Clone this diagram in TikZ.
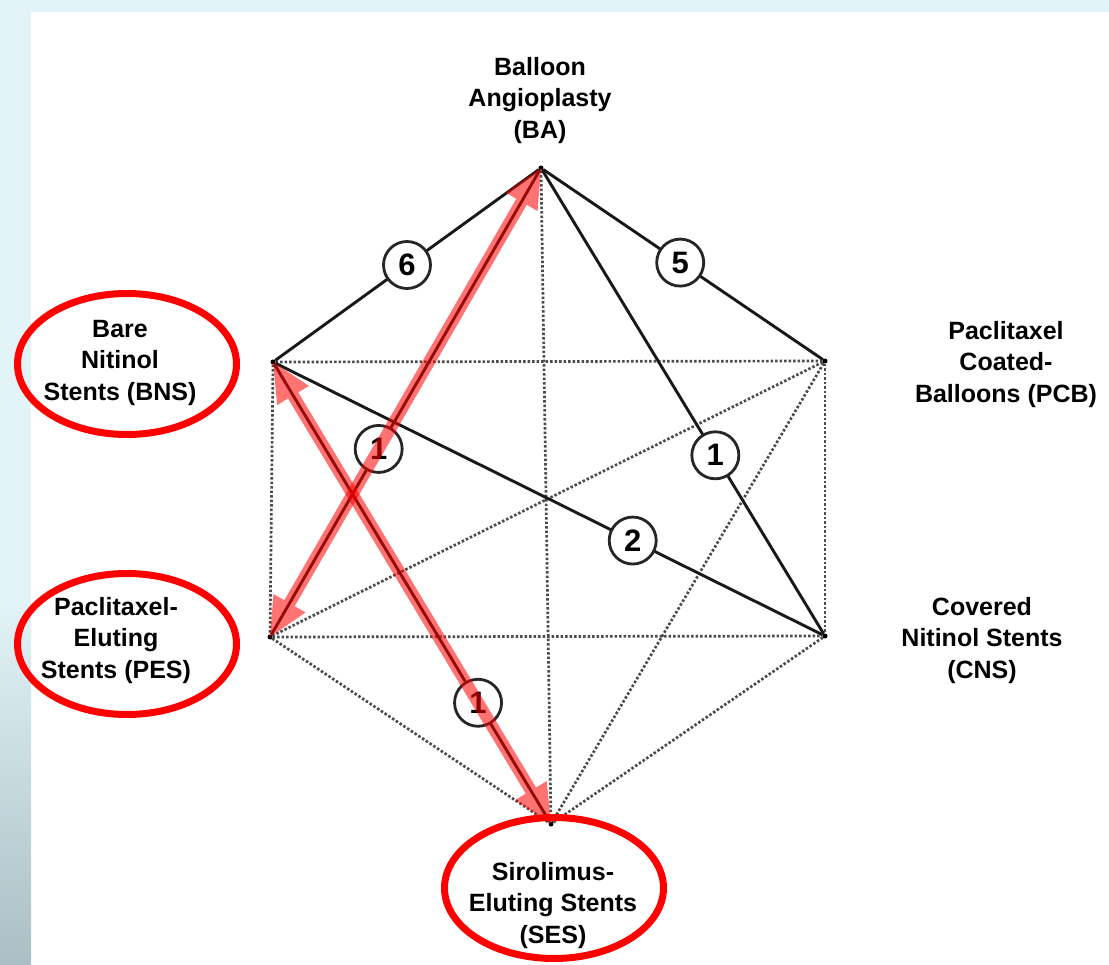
\documentclass[tikz,border=0pt]{standalone}
\usepackage{fontspec}
\setmainfont{Liberation Sans}
\usetikzlibrary{calc}
\definecolor{bgcyan}{RGB}{226,244,248}
\definecolor{bggray}{RGB}{170,190,195}
\newcommand\dblarrow[2]{%
  \fill[arr] (#1.center)
    -- ($(#1)!43.17pt!25.38:(#2)$)
    -- ($(#1)!39.46pt!8.75:(#2)$)
    -- ($(#2)!39.46pt!-8.75:(#1)$)
    -- ($(#2)!43.17pt!-25.38:(#1)$)
    -- (#2.center)
    -- ($(#2)!43.17pt!25.38:(#1)$)
    -- ($(#2)!39.46pt!8.75:(#1)$)
    -- ($(#1)!39.46pt!-8.75:(#2)$)
    -- ($(#1)!43.17pt!-25.38:(#2)$)
    -- cycle;}
\begin{document}
\begin{tikzpicture}[x=1pt,y=-1pt,
  lab/.style={font=\bfseries\fontsize{25}{31.5}\selectfont, align=center, anchor=north, inner sep=0pt},
  vtx/.style={circle, fill=black, inner sep=0pt, minimum size=5pt},
  sedge/.style={draw=black!90, line width=2.9pt},
  dotedge/.style={draw=black!70, line width=2.7pt, dash pattern=on 2.5pt off 2pt},
  num/.style={circle, draw=black!85, line width=2.8pt, fill=white, minimum size=47pt, inner sep=0pt, font=\bfseries\fontsize{31}{31}\selectfont},
  ring/.style={draw=red, line width=7pt},
  arr/.style={fill=red, fill opacity=0.55},
]
\useasboundingbox (0,0) rectangle (1109,965);
% background
\fill[white] (0,0) rectangle (1109,965);
\fill[bgcyan] (0,0) rectangle (1109,12);
\fill[bgcyan] (0,0) rectangle (31,600);
\shade[top color=bgcyan, bottom color=bggray] (0,600) rectangle (31,965);

% vertices
\node[vtx] (BA)  at (541,168) {};
\node[vtx] (BNS) at (273,362) {};
\node[vtx] (PCB) at (825,361) {};
\node[vtx] (PES) at (270,637) {};
\node[vtx] (CNS) at (825,636) {};
\node[vtx] (SES) at (551,824) {};

% dotted edges
\draw[dotedge] (BNS) -- (PCB);
\draw[dotedge] (PES) -- (CNS);
\draw[dotedge] (BNS) -- (PES);
\draw[dotedge] (PCB) -- (CNS);
\draw[dotedge] (BA) -- (SES);
\draw[dotedge] (PES) -- (PCB);
\draw[dotedge] (PCB) -- (SES);
\draw[dotedge] (CNS) -- (SES);
\draw[dotedge] (PES) -- (SES);

% solid edges with counts
\draw[sedge] (BA) -- node[num,pos=0.5]{6} (BNS);
\draw[sedge] (BA) -- node[num,pos=0.49]{5} (PCB);
\draw[sedge] (BA) -- node[num,pos=0.615]{1} (CNS);
\draw[sedge] (BA) -- node[num,pos=0.6]{1} (PES);
\draw[sedge] (BNS) -- node[num,pos=0.653]{2} (CNS);
\draw[sedge] (BNS) -- node[num,pos=0.74]{1} (SES);

% red double arrows
\dblarrow{BA}{PES}
\dblarrow{BNS}{SES}

% labels
\node[lab] (tBA)  at (540,57)  {Balloon\\Angioplasty\\(BA)};
\node[lab] (tBNS) at (120,320) {Bare\\Nitinol\\Stents (BNS)};
\node[lab] (tPCB) at (1006,321) {Paclitaxel\\Coated-\\Balloons (PCB)};
\node[lab] (tPES) at (116,597) {Paclitaxel-\\Eluting\\Stents (PES)};
\node[lab] (tCNS) at (982,597) {Covered\\Nitinol Stents\\(CNS)};
\node[lab] (tSES) at (553,862) {Sirolimus-\\Eluting Stents\\(SES)};

% red ellipses
\draw[ring] (127,364) ellipse [x radius=109.5, y radius=70.5];
\draw[ring] (127,644) ellipse [x radius=109.5, y radius=70.5];
\draw[ring] (554,888) ellipse [x radius=109.5, y radius=70.5];
\end{tikzpicture}
\end{document}
